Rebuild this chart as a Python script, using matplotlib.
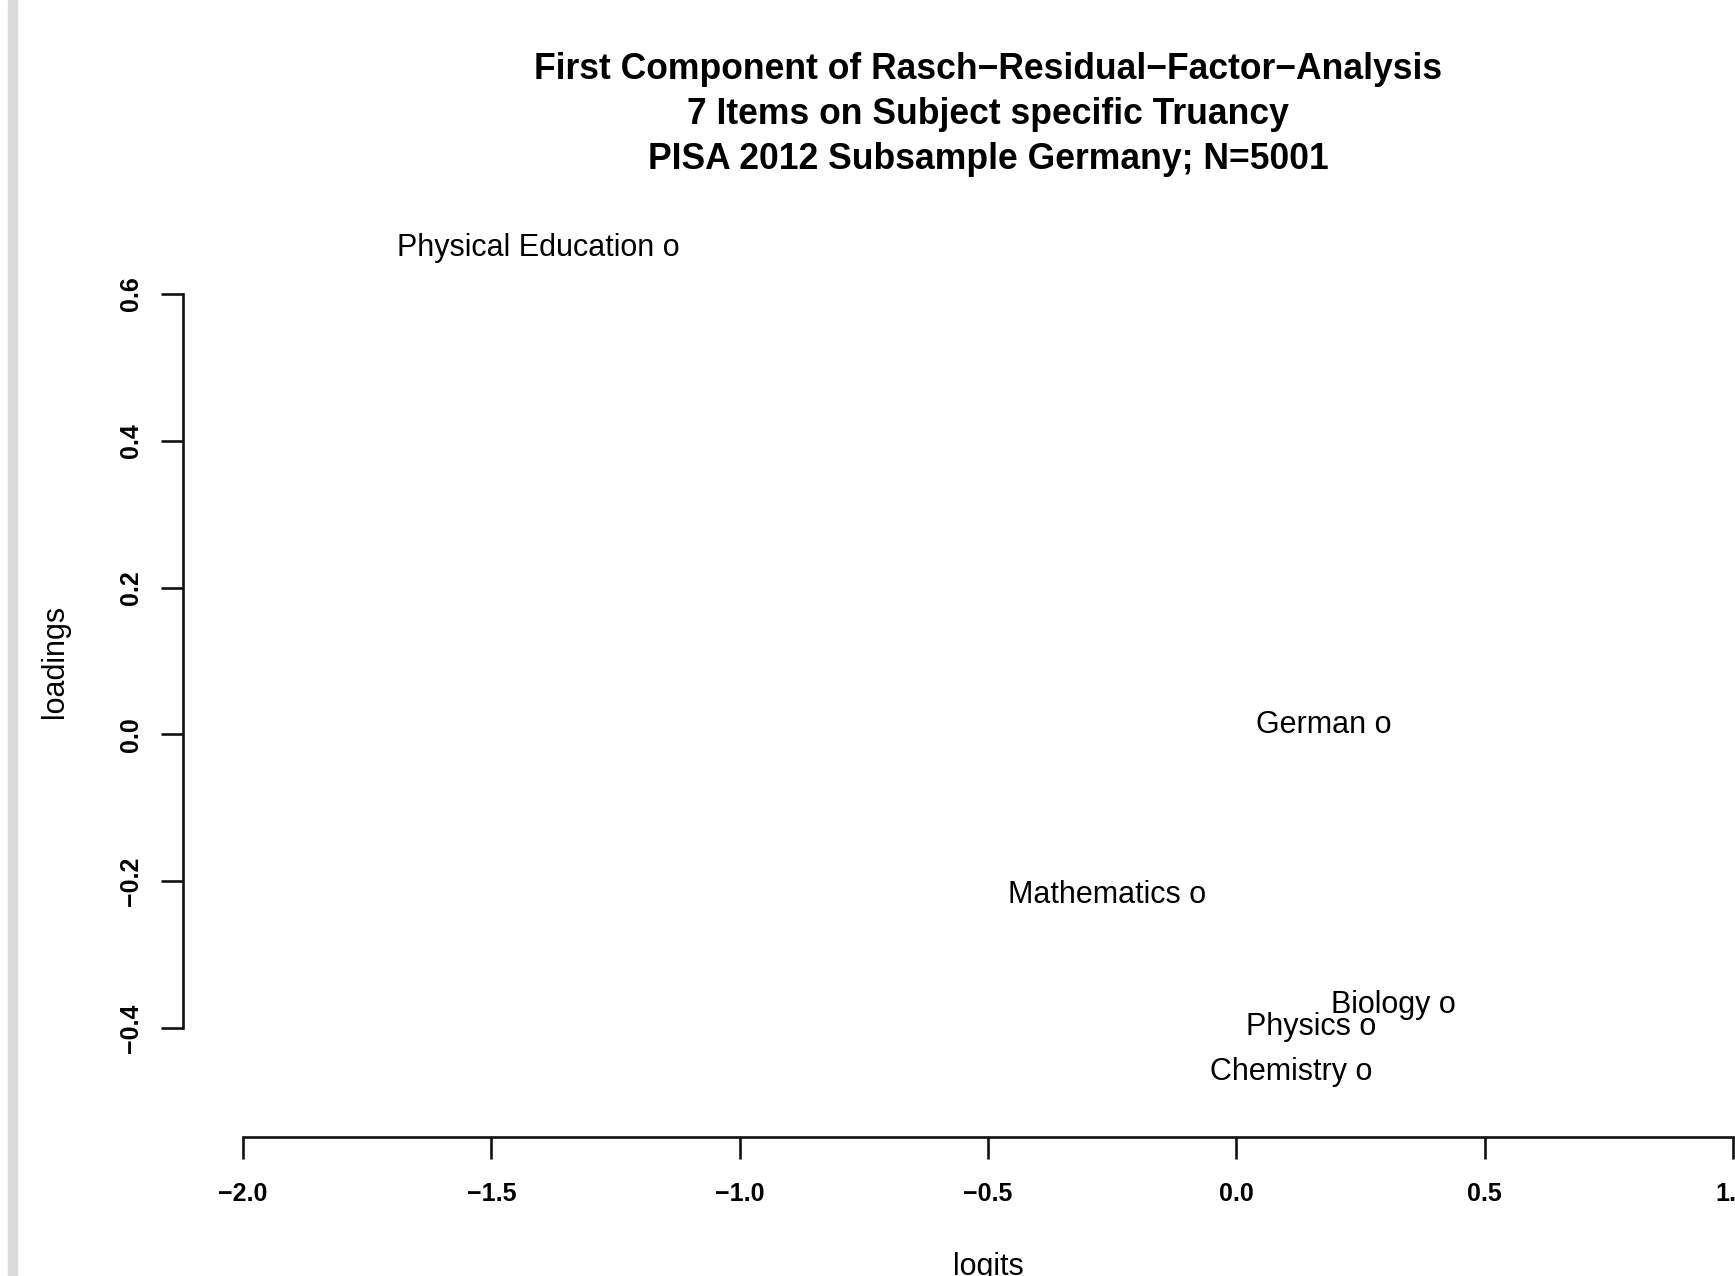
import matplotlib
matplotlib.use('Agg')
import matplotlib.pyplot as plt
from matplotlib.patches import Rectangle

plt.rcParams['font.family'] = ['Liberation Sans', 'DejaVu Sans']

# item labels and their positions (difficulty in logits, loading on 1st residual component)
items = ['Physical Education', 'German', 'Mathematics', 'Biology', 'Physics', 'Chemistry']
logits = [-1.146, 0.288, -0.087, 0.417, 0.257, 0.248]
loadings = [0.662, 0.013, -0.219, -0.368, -0.399, -0.460]

x_ticks = [-2.0, -1.5, -1.0, -0.5, 0.0, 0.5, 1.0]
y_ticks = [-0.4, -0.2, 0.0, 0.2, 0.4, 0.6]

title_lines = ['First Component of Rasch\u2212Residual\u2212Factor\u2212Analysis',
               '7 Items on Subject specific Truancy',
               'PISA 2012 Subsample Germany; N=5001']

W, H = 1735, 1276
PX = 0.72  # points per pixel at dpi 100

fig = plt.figure(figsize=(W / 100, H / 100), dpi=100)
ax = fig.add_axes([183.3 / W, 1 - 1136.7 / H, 1609.4 / W, 951.4 / H])

# grey frame strip on the left
fig.add_artist(Rectangle((8 / W, 0), 9 / W, 1, transform=fig.transFigure,
                         color='#dadbdd', zorder=0))

ax.set_xlim(-2.12, 1.12)
ax.set_ylim(-0.548, 0.748)

# labels, "o" marks the item
for name, x, y in zip(items, logits, loadings):
    ax.annotate(name + ' o', xy=(x, y), xytext=(12.5 * PX, -8 * PX),
                textcoords='offset points', ha='right', va='baseline',
                fontsize=22, color='black')

# R-style axes
for s in ['top', 'right']:
    ax.spines[s].set_visible(False)
ax.spines['bottom'].set_bounds(-2.0, 1.0)
ax.spines['left'].set_bounds(-0.4, 0.6)
for s in ['bottom', 'left']:
    ax.spines[s].set_linewidth(1.9)
    ax.spines[s].set_color('#111111')

ax.set_xticks(x_ticks)
ax.set_yticks(y_ticks)
ax.set_xticklabels([f'{v:.1f}'.replace('-', '\u2212') for v in x_ticks])
ax.set_yticklabels([f'{v:.1f}'.replace('-', '\u2212') for v in y_ticks],
                   rotation=90, va='center')
ax.tick_params(axis='both', length=22 * PX, width=1.9, color='#111111',
               labelsize=18)
ax.tick_params(axis='x', pad=23.5 * PX)
ax.tick_params(axis='y', pad=18 * PX)
for lab in ax.get_xticklabels() + ax.get_yticklabels():
    lab.set_fontweight('bold')

ax.set_xlabel('logits', fontsize=22, va='baseline')
ax.xaxis.set_label_coords(0.5, -(1275 - 1136.7) / 951.4)
ax.set_ylabel('loadings', fontsize=22, va='center')
ax.yaxis.set_label_coords(-(183.3 - 55) / 1609.4, 0.5)

# three-line title
cx = (183.3 + 1609.4 / 2) / W
for line, base in zip(title_lines, [79.1, 124.5, 168.7]):
    fig.text(cx, 1 - base / H, line, ha='center', va='baseline',
             fontsize=25.6, fontweight='bold')

fig.savefig('out.png', dpi=100)
